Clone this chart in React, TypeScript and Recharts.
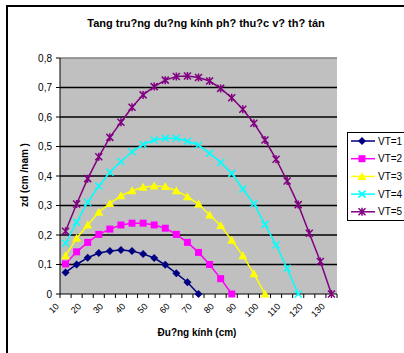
import React from 'react';
import { LineChart, Line, XAxis, YAxis, CartesianGrid, ReferenceLine, Legend } from 'recharts';

// diameter classes (cm), one category every 5 cm
const diameters = [10, 15, 20, 25, 30, 35, 40, 45, 50, 55, 60, 65, 70, 75, 80, 85, 90, 95, 100, 105, 110, 115, 120, 125, 130];

// zd (cm/năm) per crown class
const vt1 = [0.073, 0.1, 0.123, 0.139, 0.146, 0.149, 0.146, 0.136, 0.122, 0.099, 0.07, 0.04, 0];
const vt2 = [0.102, 0.143, 0.175, 0.202, 0.22, 0.234, 0.24, 0.24, 0.234, 0.223, 0.202, 0.175, 0.141, 0.1, 0.052, 0];
const vt3 = [0.13, 0.189, 0.234, 0.277, 0.307, 0.333, 0.35, 0.362, 0.366, 0.364, 0.35, 0.33, 0.305, 0.268, 0.232, 0.182, 0.13, 0.069, 0];
const vt4 = [0.172, 0.243, 0.311, 0.366, 0.413, 0.449, 0.482, 0.507, 0.522, 0.528, 0.528, 0.518, 0.505, 0.477, 0.446, 0.409, 0.356, 0.306, 0.236, 0.166, 0.087, 0];
const vt5 = [0.213, 0.305, 0.391, 0.465, 0.531, 0.582, 0.633, 0.675, 0.703, 0.725, 0.737, 0.739, 0.734, 0.722, 0.697, 0.665, 0.626, 0.579, 0.522, 0.457, 0.383, 0.303, 0.206, 0.11, 0];

const seriesKeys = ['vt1', 'vt2', 'vt3', 'vt4', 'vt5'];
const seriesNames = ['VT=1', 'VT=2', 'VT=3', 'VT=4', 'VT=5'];
const seriesColors = ['#000080', '#FF00FF', '#FFFF00', '#00FFFF', '#800080'];
const seriesShapes = ['diamond', 'square', 'triangle', 'cross', 'star'];
const seriesValues = [vt1, vt2, vt3, vt4, vt5];

const yTicks = [0, 0.1, 0.2, 0.3, 0.4, 0.5, 0.6, 0.7, 0.8];
const gridValues = [0.1, 0.2, 0.3, 0.4, 0.5, 0.6, 0.7];

const data = diameters.map((d, i) => {
  const row: any = { d };
  seriesKeys.forEach((k, s) => {
    row[k] = seriesValues[s][i];
  });
  return row;
});

const W = 404;
const H = 353;
const MARGIN = { top: 58, right: 67, bottom: 19, left: 20 };
const Y_AXIS_W = 40;
const PLOT_W = W - MARGIN.left - Y_AXIS_W - MARGIN.right;
const BAND = PLOT_W / diameters.length;

const font = '"Liberation Sans", Arial, sans-serif';

const Marker = ({ shape, cx, cy, color }: any) => {
  switch (shape) {
    case 'diamond':
      return <polygon points={`${cx},${cy - 4} ${cx + 4},${cy} ${cx},${cy + 4} ${cx - 4},${cy}`} fill={color} />;
    case 'square':
      return <rect x={cx - 3.5} y={cy - 3.5} width={7} height={7} fill={color} />;
    case 'triangle':
      return <polygon points={`${cx},${cy - 4.5} ${cx + 4.5},${cy + 3.5} ${cx - 4.5},${cy + 3.5}`} fill={color} />;
    case 'cross':
      return (
        <path
          d={`M${cx - 3.5},${cy - 3.5}L${cx + 3.5},${cy + 3.5}M${cx - 3.5},${cy + 3.5}L${cx + 3.5},${cy - 3.5}`}
          stroke={color}
          strokeWidth={1.5}
          fill="none"
        />
      );
    default:
      return (
        <path
          d={`M${cx - 3.5},${cy - 3.5}L${cx + 3.5},${cy + 3.5}M${cx - 3.5},${cy + 3.5}L${cx + 3.5},${cy - 3.5}M${cx},${cy - 4}L${cx},${cy + 4}`}
          stroke={color}
          strokeWidth={1.5}
          fill="none"
        />
      );
  }
};

const XTick = (props: any) => {
  const { x, y, payload } = props;
  const i = props.index ?? payload.index;
  const left = x - BAND / 2;
  const ax = x - 6;
  const ay = y + 13;
  return (
    <g>
      <line x1={left} y1={y} x2={left} y2={y + 4} stroke="#000" />
      {i === diameters.length - 1 && <line x1={x + BAND / 2} y1={y} x2={x + BAND / 2} y2={y + 4} stroke="#000" />}
      {i % 2 === 0 && (
        <text x={ax} y={ay} textAnchor="end" fontSize={9} fill="#000" transform={`rotate(-45 ${ax} ${ay})`}>
          {payload.value}
        </text>
      )}
    </g>
  );
};

const LegendBox = () => (
  <svg width={70} height={89} style={{ display: 'block' }}>
    <rect x={0.5} y={0.5} width={80} height={88} fill="#fff" stroke="#000" />
    {seriesNames.map((name, i) => {
      const cy = 9 + i * 17.7;
      return (
        <g key={name}>
          <line x1={4} y1={cy} x2={28} y2={cy} stroke={seriesColors[i]} strokeWidth={1.5} />
          <Marker shape={seriesShapes[i]} cx={15} cy={cy} color={seriesColors[i]} />
          <text x={31} y={cy + 3.5} fontSize={10} fill="#000" fontFamily={font}>
            {name}
          </text>
        </g>
      );
    })}
  </svg>
);

export default function App() {
  return (
    <div style={{ position: 'absolute', left: 0, top: 0, width: W, height: H, background: '#fff', overflow: 'hidden', fontFamily: font }}>
      <div style={{ position: 'absolute', left: 6, top: 5, width: 440, height: 400, border: '2px solid #000', boxSizing: 'border-box' }} />
      <LineChart width={W} height={H} data={data} margin={MARGIN}>
        <CartesianGrid horizontal={false} vertical={false} fill="#C0C0C0" />
        {gridValues.map((v) => (
          <ReferenceLine key={v} y={v} stroke="#000" strokeWidth={1.5} />
        ))}
        <ReferenceLine y={0.8} stroke="#808080" strokeWidth={1.5} />
        <XAxis
          dataKey="d"
          type="category"
          scale="band"
          interval={0}
          height={40}
          tickLine={false}
          tickSize={0}
          tickMargin={0}
          axisLine={{ stroke: '#000' }}
          tick={<XTick />}
        />
        <YAxis
          domain={[0, 0.8]}
          ticks={yTicks}
          width={Y_AXIS_W}
          tickSize={4}
          tickMargin={4}
          axisLine={{ stroke: '#000' }}
          tickLine={{ stroke: '#000' }}
          tick={{ fill: '#000', fontSize: 10 }}
          tickFormatter={(v: number) => String(v).replace('.', ',')}
        />
        <YAxis yAxisId="r" orientation="right" domain={[0, 0.8]} width={0} tick={false} tickLine={false} axisLine={{ stroke: '#808080', strokeWidth: 1.5 }} />
        {seriesKeys.map((k, s) => (
          <Line
            key={k}
            dataKey={k}
            name={seriesNames[s]}
            stroke={seriesColors[s]}
            strokeWidth={1.5}
            isAnimationActive={false}
            dot={(p: any) =>
              p.cy == null || p.value == null ? (
                <g key={`${k}-${p.index}`} />
              ) : (
                <Marker key={`${k}-${p.index}`} shape={seriesShapes[s]} cx={p.cx} cy={p.cy} color={seriesColors[s]} />
              )
            }
            activeDot={false}
          />
        ))}
        <Legend
          layout="vertical"
          align="center"
          verticalAlign="middle"
          content={() => <LegendBox />}
          wrapperStyle={{ left: 347, top: 132, width: 70, height: 89 }}
        />
      </LineChart>
      <div style={{ position: 'absolute', left: 206, top: 23, transform: 'translate(-50%, -50%)', whiteSpace: 'nowrap', fontSize: 11, fontWeight: 'bold' }}>
        Tang tru?ng du?ng kính ph? thu?c v? th? tán
      </div>
      <div style={{ position: 'absolute', left: 24, top: 175, transform: 'translate(-50%, -50%) rotate(-90deg)', whiteSpace: 'nowrap', fontSize: 10, fontWeight: 'bold' }}>
        zd (cm /nam )
      </div>
      <div style={{ position: 'absolute', left: 197, top: 332, transform: 'translate(-50%, -50%)', whiteSpace: 'nowrap', fontSize: 10, fontWeight: 'bold' }}>
        Đu?ng kính (cm)
      </div>
    </div>
  );
}
